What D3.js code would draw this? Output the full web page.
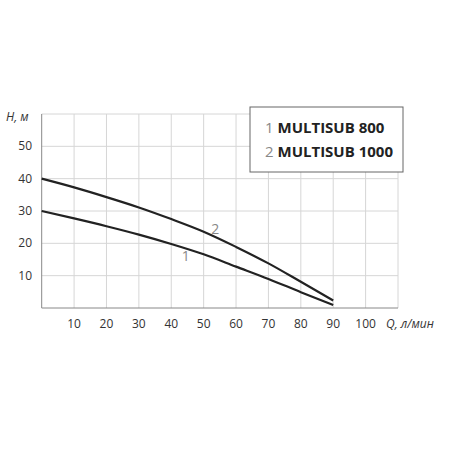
<!DOCTYPE html>
<html><head><meta charset="utf-8">
<script src="https://cdn.jsdelivr.net/npm/d3@7"></script>
<style>body{margin:0;background:#fff}</style></head>
<body><div id="chart"></div>
<script>
// flow, l/min
const flow = [0, 10, 20, 30, 40, 50, 60, 70, 80, 90];
// head, m
const head800 = [30, 27.7, 25.3, 22.7, 19.8, 16.6, 12.8, 9, 4.9, 0.9];
const head1000 = [40, 37.3, 34.3, 31.1, 27.5, 23.6, 18.9, 13.8, 8.1, 2.3];
const xTicks = [10, 20, 30, 40, 50, 60, 70, 80, 90, 100];
const yTicks = [10, 20, 30, 40, 50];
const legendItems = [["1", "MULTISUB 800"], ["2", "MULTISUB 1000"]];

const svg = d3.select("#chart").append("svg").attr("width", 450).attr("height", 450)
    .style("font-family", "'Open Sans', sans-serif");

var x = d3.scaleLinear().domain([0, 110]).range([41.7, 398]);
var y = d3.scaleLinear().domain([0, 60]).range([308, 114]);

//Grid
svg.append("g").selectAll("line").data(d3.range(10, 111, 10)).enter().append("line")
    .attr("x1", d => x(d)).attr("x2", d => x(d)).attr("y1", y(0)).attr("y2", y(60))
    .attr("stroke", "#d6d6d6");
svg.append("g").selectAll("line").data(d3.range(10, 61, 10)).enter().append("line")
    .attr("x1", x(0)).attr("x2", x(110)).attr("y1", d => y(d)).attr("y2", d => y(d))
    .attr("stroke", "#d6d6d6");
// axes lines
svg.append("line").attr("x1", x(0)).attr("x2", x(110)).attr("y1", y(0)).attr("y2", y(0)).attr("stroke", "#888");
svg.append("line").attr("x1", x(0)).attr("x2", x(0)).attr("y1", y(0)).attr("y2", y(60)).attr("stroke", "#888");

//Tick labels
svg.append("g").selectAll("text").data(xTicks).enter().append("text")
    .attr("x", d => x(d)).attr("y", 328).attr("text-anchor", "middle")
    .attr("font-size", 12).attr("fill", "#333").text(d => d);
svg.append("g").selectAll("text").data(yTicks).enter().append("text")
    .attr("x", 32).attr("y", d => y(d) + 4).attr("text-anchor", "end")
    .attr("font-size", 12).attr("fill", "#333").text(d => d);

svg.append("text").attr("x", 6).attr("y", 121).attr("font-size", 12).attr("font-style", "italic")
    .attr("fill", "#333").text("H, м");
svg.append("text").attr("x", 386).attr("y", 328).attr("font-size", 12).attr("font-style", "italic")
    .attr("fill", "#333").text("Q, л/мин");

//Curves
const line = d3.line().x((d, i) => x(flow[i])).y(d => y(d)).curve(d3.curveMonotoneX);
[head800, head1000].forEach(s => {
    svg.append("path").attr("d", line(s)).attr("fill", "none")
        .attr("stroke", "#222").attr("stroke-width", 2.2);
});
svg.append("text").attr("x", x(44.5)).attr("y", y(14.5)).attr("text-anchor", "middle")
    .attr("font-size", 14).attr("fill", "#888").text("1");
svg.append("text").attr("x", x(53.6)).attr("y", y(22.8)).attr("text-anchor", "middle")
    .attr("font-size", 14).attr("fill", "#888").text("2");

//Legend
svg.append("rect").attr("x", 250).attr("y", 107).attr("width", 153).attr("height", 65)
    .attr("fill", "#fff").attr("stroke", "#666").attr("stroke-width", 1);
legendItems.forEach((d, i) => {
    const t = svg.append("text").attr("x", 265).attr("y", 133 + i * 24).attr("font-size", 15);
    t.append("tspan").attr("fill", "#888").text(d[0] + " ");
    t.append("tspan").attr("fill", "#222").attr("font-weight", "bold").text(d[1]);
});
</script></body></html>
